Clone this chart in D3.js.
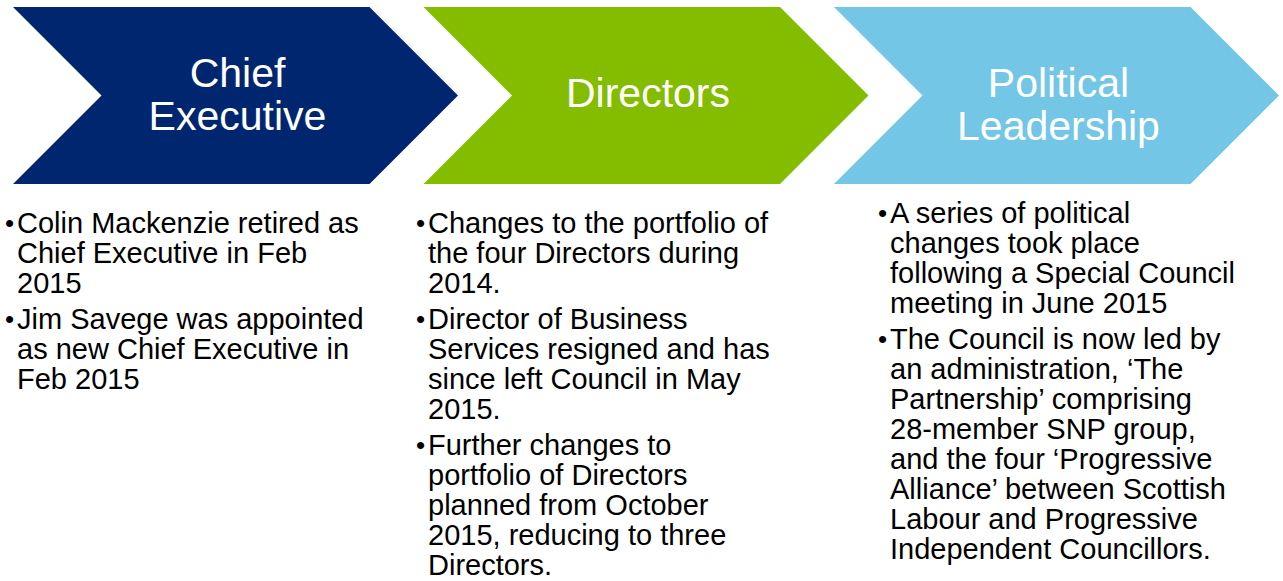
<!DOCTYPE html>
<html>
<head>
<meta charset="utf-8">
<script src="https://cdn.jsdelivr.net/npm/d3@7"></script>
<style>
    html, body { margin: 0; padding: 0; background: #fff; }
    #chart { width: 1283px; height: 581px; }
    text { font-family: "Liberation Sans", Arial, sans-serif; }
</style>
</head>
<body>
<div id="chart"></div>
<script>
// stages of the chevron process
const stages = ["Chief Executive", "Directors", "Political Leadership"];
const stageLabelLines = [["Chief", "Executive"], ["Directors"], ["Political", "Leadership"]];

// bullet points under each stage, as wrapped on the slide
const chiefExecutivePoints = [
    ["Colin Mackenzie retired as", "Chief Executive in Feb", "2015"],
    ["Jim Savege was appointed", "as new Chief Executive in", "Feb 2015"]
];
const directorsPoints = [
    ["Changes to the portfolio of", "the four Directors during", "2014."],
    ["Director of Business", "Services resigned and has", "since left Council in May", "2015."],
    ["Further changes to", "portfolio of Directors", "planned from October", "2015, reducing to three", "Directors."]
];
const politicalPoints = [
    ["A series of political", "changes took place", "following a Special Council", "meeting in June 2015"],
    ["The Council is now led by", "an administration, \u2018The", "Partnership\u2019 comprising", "28-member SNP group,", "and the four \u2018Progressive", "Alliance\u2019 between Scottish", "Labour and Progressive", "Independent Councillors."]
];
const stagePoints = [chiefExecutivePoints, directorsPoints, politicalPoints];

function drawProcess() {
    const container = d3.select("#chart");
    const width = 1283;
    const height = 581;

    container.select("svg").remove();

    const svg = container.append("svg")
        .attr("width", width)
        .attr("height", height)
        .attr("viewBox", `0 0 ${width} ${height}`);

    svg.append("rect")
        .attr("width", width)
        .attr("height", height)
        .attr("fill", "#fff");

    const color = d3.scaleOrdinal()
        .domain(stages)
        .range(["#00266f", "#84bd00", "#73c6e6"]);

    // chevron layout
    const chevW = 445;
    const chevTop = 7;
    const chevBottom = 184;
    const depth = (chevBottom - chevTop) / 2;
    const cy = (chevTop + chevBottom) / 2;

    const x = d3.scaleLinear()
        .domain([0, stages.length - 1])
        .range([13, 834]);

    const line = d3.line();

    const chevron = x0 => line([
        [x0, chevTop],
        [x0 + chevW - depth, chevTop],
        [x0 + chevW, cy],
        [x0 + chevW - depth, chevBottom],
        [x0, chevBottom],
        [x0 + depth, cy]
    ]) + "Z";

    const gStage = svg.selectAll("g.stage")
        .data(stages)
        .enter()
        .append("g")
        .attr("class", "stage");

    gStage.append("path")
        .attr("d", (d, i) => chevron(x(i)))
        .attr("fill", d => color(d));

    // header text, small per-stage vertical nudges seen on the slide
    const headerSize = 41;
    const headerLH = 43;
    const headerNudge = [-2, -3, 8];

    gStage.append("text")
        .attr("text-anchor", "middle")
        .attr("fill", "#fff")
        .style("font-size", headerSize + "px")
        .each(function (d, i) {
            const lines = stageLabelLines[i];
            const y0 = cy + headerNudge[i] - (lines.length - 1) * headerLH / 2 + headerSize * 0.36;
            d3.select(this).selectAll("tspan")
                .data(lines)
                .enter()
                .append("tspan")
                .attr("x", x(i) + chevW / 2 + 2)
                .attr("y", (l, j) => y0 + j * headerLH)
                .text(l => l);
        });

    // bullet text columns
    const bodySize = 29;
    const lineH = 30;
    const paraGap = 6;
    const colTextX = [17, 428, 890];
    const colTop = [233, 233, 223];

    stagePoints.forEach((points, i) => {
        const g = svg.append("g").attr("class", "points");
        let y = colTop[i];
        points.forEach(lines => {
            g.append("text")
                .attr("x", colTextX[i] - 12)
                .attr("y", y - 1)
                .style("font-size", "26px")
                .attr("fill", "#000")
                .text("\u2022");
            lines.forEach(l => {
                g.append("text")
                    .attr("x", colTextX[i])
                    .attr("y", y)
                    .style("font-size", bodySize + "px")
                    .attr("fill", "#000")
                    .text(l);
                y += lineH;
            });
            y += paraGap;
        });
    });
}

drawProcess();
</script>
</body>
</html>
